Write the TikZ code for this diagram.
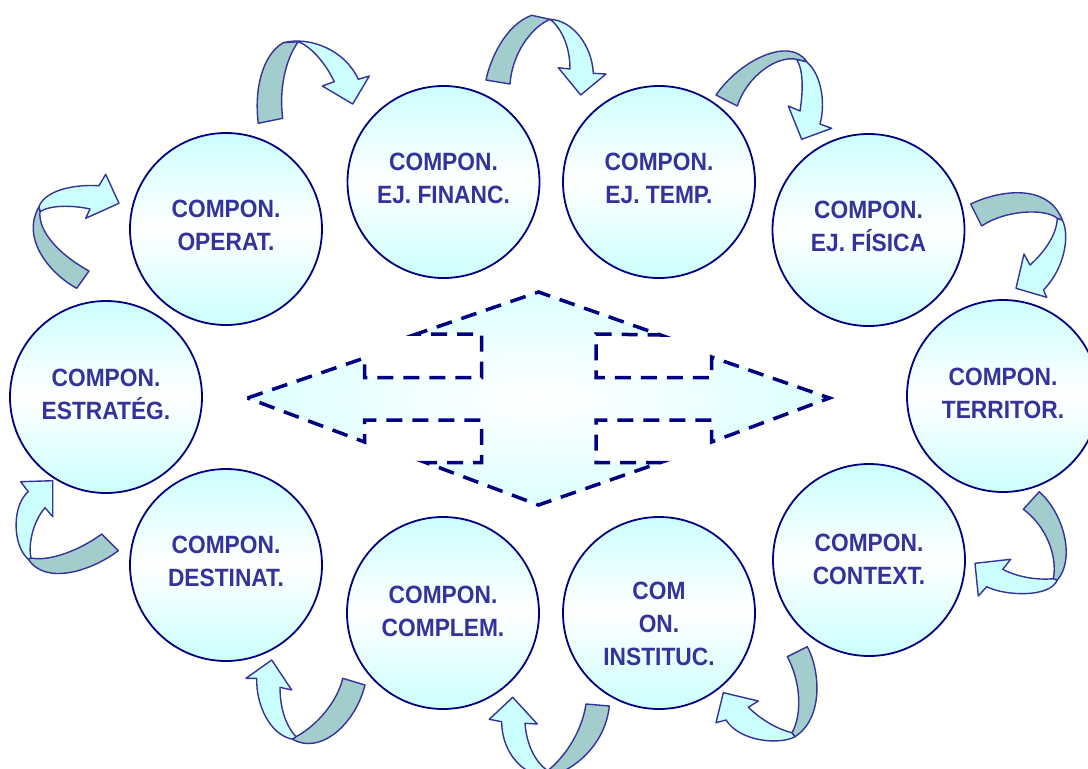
\documentclass[tikz,border=0pt]{standalone}
\usepackage{fontspec}
\setmainfont{Liberation Sans}[FakeStretch=0.91]
\usepackage{tikz}
\usetikzlibrary{calc}
\definecolor{navy}{HTML}{000080}
\definecolor{ink}{HTML}{333399}
\definecolor{ice}{HTML}{CCFFFF}
\definecolor{pale}{HTML}{DDFFFF}
\definecolor{sage}{HTML}{A3CCCC}
\newcommand{\complab}{\fontsize{25}{33}\selectfont\bfseries}
\tikzset{
  comp/.style={circle, draw=navy, line width=1.8pt, minimum size=192pt, inner sep=0pt,
    top color=ice, bottom color=ice, middle color=white},
  lab/.style={text=ink, font=\complab, align=center, inner sep=0pt},
  back/.style={fill=sage, draw=ink, line width=1.4pt, line join=round},
  front/.style={fill=ice, draw=ink, line width=1.4pt, line join=round},
  cross/.style={draw=navy, line width=3.5pt, dash pattern=on 16pt off 10pt,
    inner color=white, outer color=pale}
}

\begin{document}
\begin{tikzpicture}[x=1pt, y=-1pt]
  \useasboundingbox (0,0) rectangle (1088,769);
  \clip (0,0) rectangle (1088,769);

  % centre cross
  \begin{scope}[shift={(538.5,398)}]
    \path[cross] (-291,0) -- (-174,-40) -- (-174,-20.5) -- (-57,-20.5) -- (-57,-64)
      -- (-122,-64) -- (0,-106) -- (122,-63) -- (57.5,-64) -- (57.5,-20.5) -- (173,-20.5)
      -- (173,-41) -- (291,0) -- (173,44) -- (173,22) -- (57.5,22) -- (57.5,64.5)
      -- (122,64.5) -- (0,107) -- (-113,64.5) -- (-57,64.5) -- (-57,22) -- (-174,22)
      -- (-174,44) -- cycle;
  \end{scope}

  % components
  \node[comp] (oper) at (226,229) {};
  \node[comp] (finan) at (443.5,182) {};
  \node[comp] (temp) at (659,182) {};
  \node[comp] (fisic) at (868.5,230) {};
  \node[comp] (territ) at (1003,396) {};
  \node[comp] (contx) at (869,560) {};
  \node[comp] (instit) at (659,613) {};
  \node[comp] (compl) at (443,613) {};
  \node[comp] (destin) at (226,565) {};
  \node[comp] (estrat) at (106,397) {};

  \node[lab] (operlab) at ([yshift=3.5pt]oper) {COMPON.\\OPERAT.};
  \node[lab] (finanlab) at ([yshift=3.5pt]finan) {COMPON.\\EJ. FINANC.};
  \node[lab] (templab) at ([yshift=3.5pt]temp) {COMPON.\\EJ. TEMP.};
  \node[lab] (fisiclab) at ([yshift=3.5pt]fisic) {COMPON.\\EJ. FÍSICA};
  \node[lab] (territlab) at ([yshift=3pt]territ) {COMPON.\\TERRITOR.};
  \node[lab] (contxlab) at ([yshift=1pt]contx) {COMPON.\\CONTEXT.};
  \node[lab] (institlab) at ([yshift=-11pt]instit) {COM\\ON.\\INSTITUC.};
  \node[lab] (compllab) at ([yshift=2pt]compl) {COMPON.\\COMPLEM.};
  \node[lab] (destinlab) at ([yshift=3.5pt]destin) {COMPON.\\DESTINAT.};
  \node[lab] (estratlab) at ([yshift=2.5pt]estrat) {COMPON.\\ESTRATÉG.};

  % estrat -> oper
  \filldraw[front] (39,206.7) .. controls (44,192) and (70,184) .. (99,185.7) -- (105.7,174.3)
    -- (119,203.3) -- (85.7,218.3) -- (90,209) .. controls (72,205) and (50,205) .. (40,211.7) -- cycle;
  \filldraw[back] (76.7,288.3) .. controls (52,275) and (20,240) .. (39,206.7) -- (40,211.7)
    .. controls (38,232) and (60,255) .. (89,271) -- cycle;
  % oper -> finan
  \filldraw[front] (283.3,42.7) .. controls (310,36) and (345,50) .. (358.3,79.3) -- (369.3,76)
    -- (352.7,104) -- (322.3,86) -- (334.3,81.7) .. controls (325,62) and (310,46) .. (298.3,41.7) -- cycle;
  \filldraw[back] (258.3,123.3) .. controls (254,90) and (262,55) .. (283.3,42.7) -- (298.3,41.7)
    .. controls (285,60) and (279,90) .. (282.7,118.3) -- cycle;
  % finan -> temp
  \filldraw[front] (550,19.3) .. controls (572,20) and (592,45) .. (593.3,73.3) -- (606,74)
    -- (580.7,95) -- (558.3,67.7) -- (570,69) .. controls (570,46.7) and (561.7,28.3) .. (550,19.3) -- cycle;
  \filldraw[back] (486,80) .. controls (490,60) and (505,25) .. (531.7,15.3) -- (550,19.3)
    .. controls (530,28) and (512,55) .. (510,84) -- cycle;
  % temp -> fisic
  \filldraw[front] (806.7,61.7) .. controls (823.3,76.7) and (825,106.7) .. (820,124) -- (831.7,128.3)
    -- (801.7,139.3) -- (788.3,106) -- (800,111) .. controls (803.3,90) and (803.3,70) .. (796.7,59.3) -- cycle;
  \filldraw[back] (716,95) .. controls (740,60) and (790,36) .. (806.7,61.7) -- (796.7,59.3)
    .. controls (776.7,55) and (746.7,76.7) .. (737.3,106) -- cycle;
  % fisic -> territ
  \filldraw[front] (1062.3,220) .. controls (1070,235) and (1065,268) .. (1043.5,290) -- (1046.7,297.3)
    -- (1016,288.3) -- (1024,254) -- (1030,265) .. controls (1046.7,250) and (1056.7,233.3) .. (1057.3,218.3) -- cycle;
  \filldraw[back] (970.7,204) .. controls (1000,190) and (1048,183) .. (1062.3,220) -- (1057.3,218.3)
    .. controls (1045,208) and (1005,210) .. (981.7,226) -- cycle;
  % territ -> contx
  \filldraw[front] (1057.3,580) .. controls (1050,598) and (1005,596) .. (986.7,586.7) -- (978.3,596)
    -- (975,563.3) -- (1010.7,559.3) -- (1002.7,569.3) .. controls (1020,578.3) and (1040,580) .. (1053.3,578.7) -- cycle;
  \filldraw[back] (1039.3,491.7) .. controls (1065,515) and (1075,560) .. (1057.3,580) -- (1053.3,578.7)
    .. controls (1058,555) and (1045,525) .. (1023.3,509.3) -- cycle;
  % contx -> instit
  \filldraw[front] (795,736.7) .. controls (780,745) and (740,742) .. (726,720) -- (716,722.7)
    -- (723.3,692.7) -- (758.3,701) -- (748.3,707.3) .. controls (763.3,721.7) and (780,730) .. (792,732.7) -- cycle;
  \filldraw[back] (807.3,646.7) .. controls (820,670) and (824,718) .. (795,736.7) -- (792,732.7)
    .. controls (803,713) and (800,680) .. (787.3,656.7) -- cycle;
  % instit -> compl
  \filldraw[front] (548.3,777.3) .. controls (520,775) and (501.7,750) .. (501.7,721.7) -- (489.3,719.3)
    -- (512.7,697.3) -- (537.3,724) -- (525,723.3) .. controls (526.7,746.7) and (536.7,763.3) .. (547.7,770.7) -- cycle;
  \filldraw[back] (609.3,706) .. controls (606,740) and (580,768) .. (548.3,777.3) -- (547.7,770.7)
    .. controls (567,755) and (582,730) .. (586,704) -- cycle;
  % compl -> destin
  \filldraw[front] (292.7,739.3) .. controls (270,735) and (256,705) .. (256.7,678.3) -- (246,678.3)
    -- (271.7,660) -- (291.7,690) -- (280,687.3) .. controls (280,710) and (286.7,726.7) .. (296,736.7) -- cycle;
  \filldraw[back] (365,685) .. controls (355,725) and (320,755) .. (292.7,739.3) -- (296,736.7)
    .. controls (318,725) and (338,700) .. (342.7,678.3) -- cycle;
  % destin -> estrat
  \filldraw[front] (28.3,559.3) .. controls (12,545) and (12,505) .. (28.3,491.7) -- (20.7,481.7)
    -- (52.7,480.7) -- (52.7,516.7) -- (45,507.7) .. controls (31.7,523.3) and (28.3,546.7) .. (31,558) -- cycle;
  \filldraw[back] (118.3,550.7) .. controls (90,572) and (45,585) .. (28.3,559.3) -- (31,558)
    .. controls (50,561.7) and (80,550) .. (101.7,534) -- cycle;
\end{tikzpicture}
\end{document}
